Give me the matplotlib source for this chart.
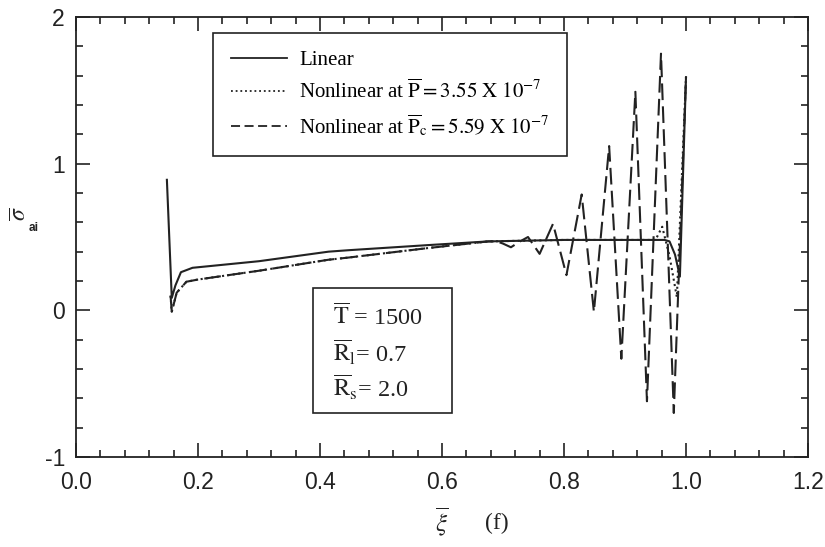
import matplotlib
matplotlib.use("Agg")
import matplotlib.pyplot as plt
from matplotlib.lines import Line2D
from matplotlib.patches import Rectangle
from matplotlib.ticker import MultipleLocator, FormatStrFormatter

plt.rcParams["mathtext.fontset"] = "stix"
plt.rcParams["axes.unicode_minus"] = False

# --- datos ---
# lineal (con el pico en la unión)
x_lineal = [0.149, 0.157, 0.163, 0.172, 0.191, 0.30, 0.414, 0.447, 0.578, 0.676,
            0.80, 0.90, 0.965, 0.973, 0.982, 0.990, 1.000]
y_lineal = [0.89, 0.085, 0.17, 0.26, 0.29, 0.335, 0.40, 0.41, 0.445, 0.47,
            0.48, 0.48, 0.48, 0.47, 0.38, 0.23, 1.59]

# tramo común de las dos soluciones no lineales
x_comun = [0.155, 0.157, 0.165, 0.181, 0.20, 0.30, 0.414, 0.447, 0.578, 0.676]
y_comun = [0.10, -0.01, 0.12, 0.195, 0.21, 0.27, 0.345, 0.36, 0.425, 0.47]

# no lineal, P = 3.55e-7 (punteada)
x_nl1 = x_comun + [0.80, 0.90, 0.950, 0.961, 0.973, 0.985, 1.000]
y_nl1 = y_comun + [0.48, 0.48, 0.48, 0.57, 0.37, 0.09, 1.59]

# no lineal, Pc = 5.59e-7 (discontinua, oscilante)
x_nl2 = x_comun + [0.690, 0.700, 0.713, 0.728, 0.741, 0.760, 0.782, 0.804, 0.829,
                   0.849, 0.874, 0.894, 0.917, 0.936, 0.959, 0.980, 1.000]
y_nl2 = y_comun + [0.47, 0.455, 0.43, 0.47, 0.50, 0.385, 0.59, 0.24, 0.79,
                   -0.01, 1.12, -0.33, 1.49, -0.62, 1.75, -0.70, 1.59]

etiquetas = ["Linear",
             r"Nonlinear at $\overline{\mathrm{P}} = 3.55\ \mathrm{X}\ 10^{-7}$",
             r"Nonlinear at $\overline{\mathrm{P}}_{\mathrm{c}} = 5.59\ \mathrm{X}\ 10^{-7}$"]
parametros = [r"$\overline{\mathrm{T}}$ = 1500",
              r"$\overline{\mathrm{R}}_{\mathrm{l}}$= 0.7",
              r"$\overline{\mathrm{R}}_{\mathrm{s}}$= 2.0"]

TINTA = "#222222"
PUNTEADA = (0, (1, 1.6))
DISCONTINUA = (0, (8, 3))

# ejes en píxeles de la figura (825 x 547)
IZQ, DER, ARR, ABA = 76, 808, 17, 457
ANCHO, ALTO = DER - IZQ, ABA - ARR

fig = plt.figure(figsize=(8.25, 5.47), dpi=100)
ax = fig.add_axes([IZQ / 825, 1 - ABA / 547, ANCHO / 825, ALTO / 547])

ax.plot(x_lineal, y_lineal, color=TINTA, lw=1.5, ls="-")
ax.plot(x_nl1, y_nl1, color=TINTA, lw=1.5, ls=PUNTEADA)
ax.plot(x_nl2, y_nl2, color=TINTA, lw=1.5, ls=DISCONTINUA)

ax.set_xlim(0, 1.2)
ax.set_ylim(-1, 2)
ax.xaxis.set_major_locator(MultipleLocator(0.2))
ax.xaxis.set_minor_locator(MultipleLocator(0.04))
ax.yaxis.set_major_locator(MultipleLocator(1))
ax.yaxis.set_minor_locator(MultipleLocator(0.2))
ax.xaxis.set_major_formatter(FormatStrFormatter("%.1f"))
ax.tick_params(which="both", direction="in", top=True, right=True,
               width=1.2, color=TINTA, labelcolor=TINTA,
               labelfontfamily="Liberation Sans")
ax.tick_params(which="major", length=10)
ax.tick_params(which="minor", length=5)
ax.tick_params(axis="x", pad=10, labelsize=16.5)
ax.tick_params(axis="y", pad=8, labelsize=16.5)
for s in ax.spines.values():
    s.set_linewidth(1.3)
    s.set_color(TINTA)

# leyenda
handles = [Line2D([], [], color=TINTA, lw=1.3, ls="-"),
           Line2D([], [], color=TINTA, lw=1.3, ls=PUNTEADA),
           Line2D([], [], color=TINTA, lw=1.3, ls=(0, (5, 2.5)))]
leg = ax.legend(handles, etiquetas, loc="upper left",
                bbox_to_anchor=((213 - IZQ) / ANCHO, (ABA - 33) / ALTO),
                prop={"family": "Liberation Serif", "size": 15},
                frameon=True, fancybox=False, framealpha=1, edgecolor=TINTA,
                handlelength=2.7, handletextpad=0.6, labelspacing=0.45,
                borderpad=0.85, borderaxespad=0)
leg.get_frame().set_linewidth(1.2)

# cuadro de parámetros
ax.add_patch(Rectangle(((313 - IZQ) / ANCHO, (ABA - 413) / ALTO),
                       (452 - 313) / ANCHO, (413 - 288) / ALTO,
                       transform=ax.transAxes, fill=True, fc="white",
                       ec=TINTA, lw=1.2, zorder=5))
for i, t in enumerate(parametros):
    ax.text((333 - IZQ) / ANCHO, (ABA - 317 - 35 * i) / ALTO, t, transform=ax.transAxes,
            family="Liberation Serif", fontsize=17.5, va="center", ha="left",
            color=TINTA, zorder=6)

# etiquetas de los ejes
fig.text(19 / 825, 1 - 214 / 547, r"$\overline{\sigma}$", rotation=90,
         fontsize=17, ha="center", va="center", color=TINTA)
fig.text(34 / 825, 1 - 228 / 547, "ai", family="Liberation Sans",
         fontsize=8.5, weight="bold", ha="center", va="center", color=TINTA)
fig.text(442 / 825, 1 - 522 / 547, r"$\overline{\xi}$", fontsize=18,
         ha="center", va="center", color=TINTA)
fig.text(497 / 825, 1 - 523 / 547, "(f)", family="Liberation Serif",
         fontsize=17, ha="center", va="center", color=TINTA)

fig.savefig("out.png", dpi=100)
